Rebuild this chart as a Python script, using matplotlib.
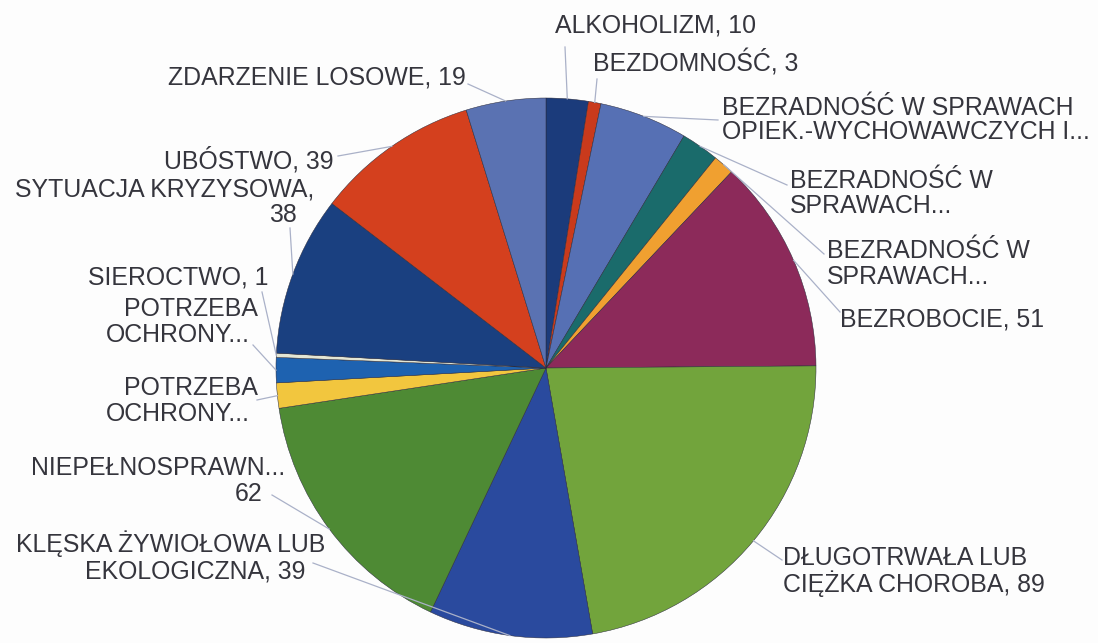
import numpy as np
import matplotlib.pyplot as plt

plt.rcParams["font.family"] = ["Liberation Sans", "DejaVu Sans"]

# ── dane ────────────────────────────────────────────────────────────────────
CATEGORIES = [
    "ALKOHOLIZM", "BEZDOMNOŚĆ",
    "BEZRADNOŚĆ W SPRAWACH OPIEK.-WYCHOWAWCZYCH I...",
    "BEZRADNOŚĆ W SPRAWACH...", "BEZRADNOŚĆ W SPRAWACH...",
    "BEZROBOCIE", "DŁUGOTRWAŁA LUB CIĘŻKA CHOROBA",
    "KLĘSKA ŻYWIOŁOWA LUB EKOLOGICZNA", "NIEPEŁNOSPRAWNOŚĆ",
    "POTRZEBA OCHRONY...", "POTRZEBA OCHRONY...",
    "SIEROCTWO", "SYTUACJA KRYZYSOWA", "UBÓSTWO", "ZDARZENIE LOSOWE",
]
VALUES = [10, 3, 21, 9, 5, 51, 89, 39, 62, 6, 6, 1, 38, 39, 19]

# tekst etykiet (tak jak w oryginale, łamany na linie)
LABEL_LINES = [
    ["ALKOHOLIZM, 10"],
    ["BEZDOMNOŚĆ, 3"],
    ["BEZRADNOŚĆ W SPRAWACH", "OPIEK.-WYCHOWAWCZYCH I..."],
    ["BEZRADNOŚĆ W", "SPRAWACH..."],
    ["BEZRADNOŚĆ W", "SPRAWACH..."],
    ["BEZROBOCIE, 51"],
    ["DŁUGOTRWAŁA LUB", "CIĘŻKA CHOROBA, 89"],
    ["KLĘSKA ŻYWIOŁOWA LUB", "EKOLOGICZNA, 39"],
    ["NIEPEŁNOSPRAWN...", "62"],
    ["POTRZEBA", "OCHRONY..."],
    ["POTRZEBA", "OCHRONY..."],
    ["SIEROCTWO, 1"],
    ["SYTUACJA KRYZYSOWA,", "38"],
    ["UBÓSTWO, 39"],
    ["ZDARZENIE LOSOWE, 19"],
]

COLORS = [
    "#1b3b7b", "#c93a1c", "#5670b4", "#1a6b6b", "#f0a030",
    "#8c2a5a", "#72a43c", "#2a4a9e", "#4e8a34", "#f2c63e",
    "#1e62b0", "#e4e6d4", "#1a4080", "#d4401e", "#5a72b2",
]

# ── układ (piksele obrazu, y od góry) ───────────────────────────────────────
W, H = 1098, 643
CENTER = (546, 368)
RADIUS = 270
FONT_SIZE = 17.9

# (x, y pierwszej linii, ha, przesunięcia x kolejnych linii, odstęp linii)
LABEL_POS = [
    (555, 25, "left", [0], 25),
    (593, 63, "left", [0], 25),
    (722, 108, "left", [0, 0], 24),
    (790, 181, "left", [0, 0], 25),
    (827, 251, "left", [0, 0], 26),
    (840, 320, "left", [0], 25),
    (783, 558, "left", [0, 0], 26),
    (325, 544, "right", [0, -20], 28),
    (285, 468, "right", [0, -22], 26),
    (258, 388, "right", [0, -8], 26),
    (258, 309, "right", [0, -8], 26),
    (268, 277, "right", [0], 25),
    (314, 190, "right", [0, -17], 25),
    (334, 160, "right", [0], 25),
    (466, 78, "right", [0], 25),
]

# koniec linii odniesienia przy etykiecie
LEADER_END = [
    (565, 47), (597, 79), (718, 120), (787, 185), (824, 254),
    (840, 312), (782, 560), (313, 563), (272, 495), (257, 400),
    (253, 345), (262, 292), (290, 228), (338, 156), (468, 84),
]


def px(x, y):
    return x, H - y


fig = plt.figure(figsize=(W / 100, H / 100), dpi=100)
fig.patch.set_facecolor("#fdfdfd")
ax = fig.add_axes([0, 0, 1, 1])

wedges, _ = ax.pie(
    VALUES, colors=COLORS, startangle=90, counterclock=False,
    center=px(*CENTER), radius=RADIUS,
    wedgeprops=dict(edgecolor="#2a2a3a", linewidth=0.35),
)
ax.set_xlim(0, W)
ax.set_ylim(0, H)
ax.set_aspect("equal")
ax.axis("off")

cx, cy = px(*CENTER)
for w, end in zip(wedges, LEADER_END):
    mid = np.deg2rad((w.theta1 + w.theta2) / 2)
    sx = cx + RADIUS * np.cos(mid)
    sy = cy + RADIUS * np.sin(mid)
    ex, ey = px(*end)
    ax.plot([sx, ex], [sy, ey], color="#aab1c8", linewidth=0.9, zorder=1)

for lines, (x, y, ha, dxs, step) in zip(LABEL_LINES, LABEL_POS):
    for i, (line, dx) in enumerate(zip(lines, dxs)):
        tx, ty = px(x + dx, y + i * step)
        ax.text(tx, ty, line, ha=ha, va="center", fontsize=FONT_SIZE,
                color="#35353d")

fig.savefig("out.png", dpi=100, facecolor=fig.get_facecolor())
